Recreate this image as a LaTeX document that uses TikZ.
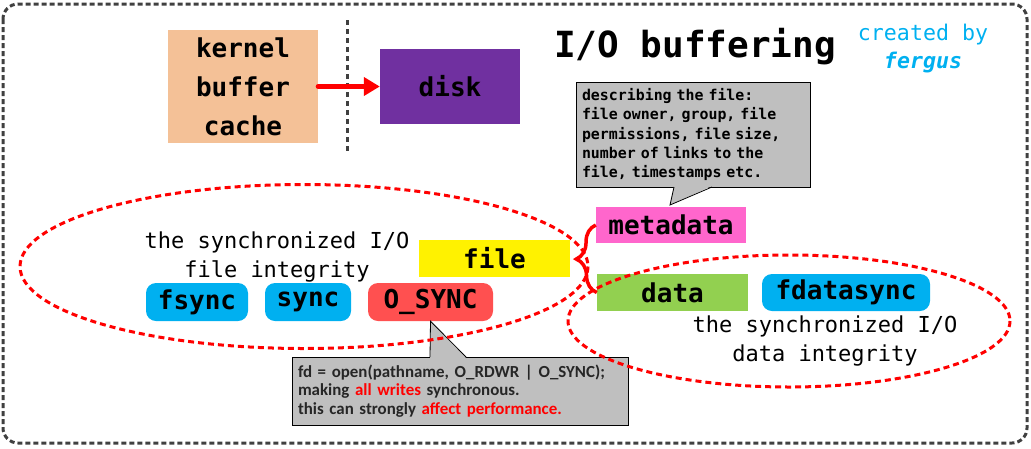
\documentclass[tikz,border=0pt]{standalone}
\usepackage{fontspec}
\setmonofont{DejaVu Sans Mono}
\newfontfamily\calloutfont{Carlito}
\usetikzlibrary{arrows.meta,decorations.pathreplacing}

\definecolor{peach}{HTML}{F4C197}
\definecolor{plum}{HTML}{7030A0}
\definecolor{pink}{HTML}{FF66CC}
\definecolor{lime}{HTML}{92D050}
\definecolor{skyblue}{HTML}{00B0F0}
\definecolor{salmon}{HTML}{FF5050}
\definecolor{notegray}{HTML}{BFBFBF}
\definecolor{framegray}{HTML}{404040}

\begin{document}
\begin{tikzpicture}[x=1pt,y=-1pt]
    \tikzset{
        frame/.style={
            draw=framegray, line width=3pt, dash pattern=on 5pt off 3pt,
        },
        box/.style={
            inner sep=0pt,
            font=\fontsize{26}{39}\selectfont\ttfamily\bfseries,
        },
        pill/.style={
            box,
            rounded corners=10pt,
            fill=skyblue,
        },
        note/.style={
            draw=black, line width=0.8pt, fill=notegray, outer sep=0pt,
            inner xsep=6pt, inner ysep=0pt, align=left,
        },
        caption/.style={
            align=center,
            font=\fontsize{22}{29}\selectfont\ttfamily,
        },
        ring/.style={
            draw=red, line width=3pt, dash pattern=on 6pt off 4pt,
        },
    }
    \useasboundingbox (0,0) rectangle (1031,448);

    % Frame
    \draw[frame, rounded corners=15pt] (3,4) rectangle (1027,443);
    \draw[frame, dash pattern=on 5pt off 4pt] (347,20) -- (347,154);

    % Title
    \node[anchor=base, font=\fontsize{36}{40}\selectfont\ttfamily\bfseries] (title) at (695,57) {I/O buffering};
    \node[anchor=base, text=skyblue, font=\fontsize{21.6}{24}\selectfont\ttfamily] (created) at (923,40) {created by};
    \node[anchor=base, text=skyblue, font=\fontsize{21.6}{24}\selectfont\ttfamily\bfseries\itshape] (author) at (923,68) {fergus};

    % Cache and disk
    \node[box, fill=peach, minimum width=150, minimum height=113, align=center] (kernel) at (243,86.5) {kernel\\buffer\\cache};
    \node[box, fill=plum, minimum width=140, minimum height=75] (disk) at (450,86.5) {disk};
    \draw[red, line width=5pt, line cap=round, -{Triangle[length=16pt,width=18pt]}] (kernel.east) -- (disk.west);

    % File parts
    \node[box, fill=yellow, minimum width=151, minimum height=37] (file) at (494.5,258.5) {file};
    \node[box, fill=pink, minimum width=150, minimum height=36] (metadata) at (671,225) {metadata};
    \node[box, fill=lime, minimum width=151, minimum height=37] (data) at (672.5,292.5) {data};

    % Calls
    \node[pill, minimum width=102, minimum height=38] (fsync) at (197,302) {fsync};
    \node[pill, minimum width=86, minimum height=38] (sync) at (308,302) {sync};
    \node[pill, fill=salmon, minimum width=125, minimum height=38] (osync) at (430.5,302) {O\_SYNC};
    \node[pill, minimum width=168, minimum height=37] (fdatasync) at (846,292.5) {fdatasync};

    \node[caption] (file integrity) at (277,256.5) {the synchronized I/O\\file integrity};
    \node[caption] (data integrity) at (825,340.5) {the synchronized I/O\\data integrity};

    % Notes
    \node[note, text width=222, minimum height=105, font=\fontsize{14.9}{19.2}\selectfont\ttfamily\bfseries] (meta note) at (693,134.5)
        {describing the file:\\file owner, group, file\\permissions, file size,\\number of links to the\\file, timestamps etc.};
    \coordinate (meta tip) at (670,205);
    \fill[notegray] ([xshift=-19pt,yshift=1pt]meta note.south) -- (meta tip) -- ([xshift=19pt,yshift=1pt]meta note.south) -- cycle;
    \draw[line width=0.8pt] ([xshift=-19pt]meta note.south) -- (meta tip) -- ([xshift=19pt]meta note.south);

    \node[note, text width=324, minimum height=68, text={black!85}, font=\fontsize{16.9}{18.5}\selectfont\calloutfont\bfseries] (sync note) at (460,391)
        {fd = open(pathname, O\_RDWR | O\_SYNC);\\making \textcolor{red}{all writes} synchronous.\\this can strongly \textcolor{red}{affect performance.}};
    \fill[notegray] ([xshift=-30pt,yshift=-1pt]sync note.north) -- (osync.south) -- ([xshift=6pt,yshift=-1pt]sync note.north) -- cycle;
    \draw[line width=0.8pt] ([xshift=-30pt]sync note.north) -- (osync.south) -- ([xshift=6pt]sync note.north);

    % Groups
    \draw[ring] (304,266.5) ellipse [x radius=284, y radius=82];
    \draw[ring] (789,321) ellipse [x radius=221, y radius=66];
    \draw[red, line width=3.5pt, decorate, decoration={brace, amplitude=20pt}] (data.west) -- (metadata.west);
\end{tikzpicture}
\end{document}
